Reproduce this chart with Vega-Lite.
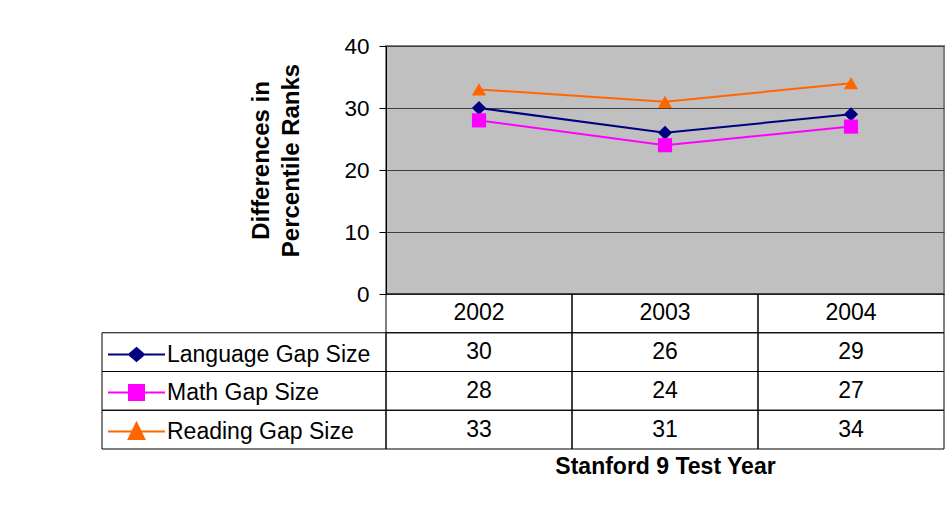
{
  "$schema": "https://vega.github.io/schema/vega-lite/v6.json",
  "padding": {"left": 101, "top": 34, "right": 5, "bottom": 5},
  "background": "white",
  "config": {
    "font": "Liberation Sans",
    "view": {"stroke": null},
    "axis": {"labelColor": "black", "titleColor": "black"}
  },
  "data": {"values": [
    {"series": "Language Gap Size", "year": "2002", "value": 30},
    {"series": "Language Gap Size", "year": "2003", "value": 26},
    {"series": "Language Gap Size", "year": "2004", "value": 29},
    {"series": "Math Gap Size", "year": "2002", "value": 28},
    {"series": "Math Gap Size", "year": "2003", "value": 24},
    {"series": "Math Gap Size", "year": "2004", "value": 27},
    {"series": "Reading Gap Size", "year": "2002", "value": 33},
    {"series": "Reading Gap Size", "year": "2003", "value": 31},
    {"series": "Reading Gap Size", "year": "2004", "value": 34}
  ]},
  "columns": 2,
  "spacing": 0,
  "bounds": "flush",
  "resolve": {
    "scale": {"color": "independent", "fill": "independent", "stroke": "independent", "shape": "independent", "x": "independent", "y": "independent"},
    "legend": {"fill": "independent", "stroke": "independent", "shape": "independent", "color": "independent"}
  },
  "concat": [
    {
      "width": 284, "height": 248,
      "transform": [{"filter": "false"}],
      "mark": "text",
      "encoding": {}
    },
    {
      "width": 558, "height": 248,
      "view": {"fill": "#C0C0C0", "stroke": "#808080", "strokeWidth": 2},
      "encoding": {
        "x": {"field": "year", "type": "ordinal", "axis": null},
        "y": {"field": "value", "type": "quantitative", "scale": {"domain": [0, 40]},
          "axis": {"values": [0, 10, 20, 30, 40], "title": ["Differences in", "Percentile Ranks"],
            "titleFontSize": 24, "titleFontWeight": "bold", "titlePadding": 40, "titleLineHeight": 30, "titleY": 114,
            "labelFontSize": 22.5, "labelPadding": 10, "tickSize": 7, "tickColor": "black",
            "domainColor": "black", "gridColor": "#404040", "gridOpacity": 1}},
        "color": {"field": "series", "type": "nominal",
          "scale": {"domain": ["Language Gap Size", "Math Gap Size", "Reading Gap Size"], "range": ["#000080", "#FF00FF", "#FF6600"]},
          "legend": null}
      },
      "layer": [
        {"mark": {"type": "line", "strokeWidth": 2}},
        {"mark": {"type": "point", "filled": true, "size": 200, "opacity": 1},
          "encoding": {"shape": {"field": "series", "type": "nominal",
            "scale": {"domain": ["Language Gap Size", "Math Gap Size", "Reading Gap Size"], "range": ["diamond", "square", "triangle-up"]},
            "legend": null}}}
      ]
    },
    {
      "width": 284, "height": 155,
      "transform": [{"filter": "datum.year === '2002'"}],
      "encoding": {
        "y": {"field": "series", "type": "nominal",
          "scale": {"domain": ["Year", "Language Gap Size", "Math Gap Size", "Reading Gap Size"], "paddingInner": 0, "paddingOuter": 0},
          "axis": null}
      },
      "layer": [
        {"mark": {"type": "rect", "filled": false, "stroke": "black", "strokeWidth": 1}},
        {
          "transform": [{"filter": "false"}],
          "mark": {"type": "point", "filled": true, "size": 400, "strokeWidth": 2, "opacity": 1},
          "encoding": {
            "fill": {"field": "series", "type": "nominal",
              "scale": {"domain": ["Language Gap Size", "Math Gap Size", "Reading Gap Size"], "range": ["#000080", "#FF00FF", "#FF6600"]},
              "legend": {"title": null, "orient": "none", "legendX": 23, "legendY": 49, "padding": 0, "labelFontSize": 23, "labelColor": "black", "labelLimit": 300, "labelOffset": 19, "rowPadding": 14, "symbolSize": 400, "symbolStrokeWidth": 2, "symbolOpacity": 1}},
            "stroke": {"field": "series", "type": "nominal",
              "scale": {"domain": ["Language Gap Size", "Math Gap Size", "Reading Gap Size"], "range": ["#000080", "#FF00FF", "#FF6600"]},
              "legend": {"title": null, "orient": "none", "legendX": 23, "legendY": 49, "padding": 0, "labelFontSize": 23, "labelColor": "black", "labelLimit": 300, "labelOffset": 19, "rowPadding": 14, "symbolSize": 400, "symbolStrokeWidth": 2, "symbolOpacity": 1}},
            "shape": {"field": "series", "type": "nominal",
              "scale": {"domain": ["Language Gap Size", "Math Gap Size", "Reading Gap Size"],
                "range": ["M-2.85,0H2.85M0,-0.65L0.75,0L0,0.65L-0.75,0Z", "M-2.85,0H2.85M-0.75,-0.75H0.75V0.75H-0.75Z", "M-2.85,0H2.85M0,-0.85L0.78,0.75L-0.78,0.75Z"]},
              "legend": {"title": null, "orient": "none", "legendX": 23, "legendY": 49, "padding": 0, "labelFontSize": 23, "labelColor": "black", "labelLimit": 300, "labelOffset": 19, "rowPadding": 14, "symbolSize": 400, "symbolStrokeWidth": 2, "symbolOpacity": 1}}
          }
        }
      ]
    },
    {
      "width": 558, "height": 155,
      "encoding": {
        "x": {"field": "year", "type": "ordinal", "scale": {"type": "band", "paddingInner": 0, "paddingOuter": 0},
          "axis": {"title": "Stanford 9 Test Year", "labels": false, "ticks": false, "domain": false,
            "titleFontSize": 23, "titleFontWeight": "bold", "titlePadding": 6}},
        "y": {"field": "series", "type": "nominal",
          "scale": {"domain": ["Year", "Language Gap Size", "Math Gap Size", "Reading Gap Size"], "paddingInner": 0, "paddingOuter": 0},
          "axis": null}
      },
      "layer": [
        {"mark": {"type": "rect", "filled": false, "stroke": "black", "strokeWidth": 1}},
        {"transform": [{"filter": "datum.series === 'Language Gap Size'"}],
          "mark": {"type": "rect", "filled": false, "stroke": "black", "strokeWidth": 1},
          "encoding": {"y": {"datum": "Year"}}},
        {"mark": {"type": "text", "fontSize": 23, "color": "black"},
          "encoding": {"text": {"field": "value", "type": "quantitative"}}},
        {"transform": [{"filter": "datum.series === 'Language Gap Size'"}],
          "mark": {"type": "text", "fontSize": 23, "color": "black"},
          "encoding": {"y": {"datum": "Year"}, "text": {"field": "year", "type": "nominal"}}}
      ]
    }
  ]
}
